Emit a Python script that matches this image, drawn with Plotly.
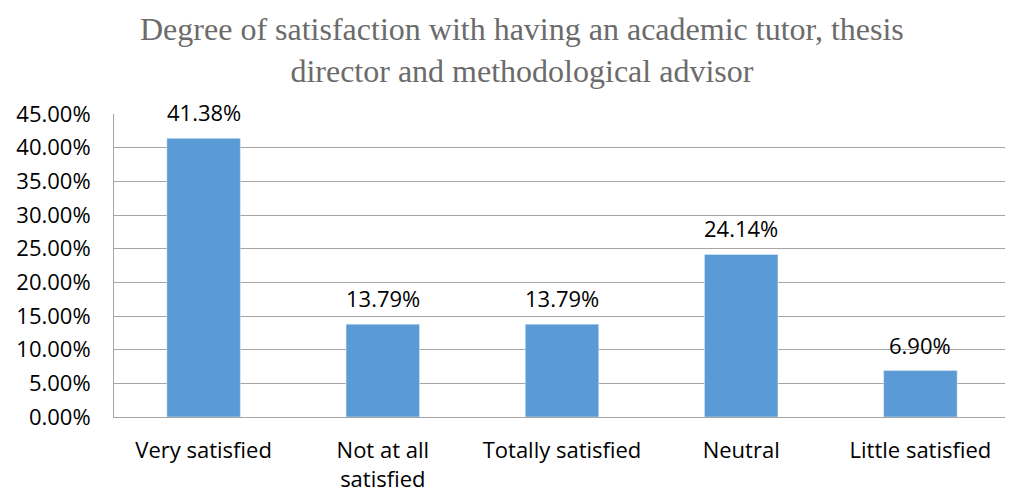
import plotly.graph_objects as go

categories = ["Very satisfied", "Not at all<br>satisfied", "Totally satisfied", "Neutral", "Little satisfied"]
values = [0.4138, 0.1379, 0.1379, 0.2414, 0.0690]
labels = ["41.38%", "13.79%", "13.79%", "24.14%", "6.90%"]
title_text = "Degree of satisfaction with having an academic tutor, thesis<br>director and methodological advisor"

# the page body keeps an 8px margin, so the figure is laid out 8px smaller
fig = go.Figure(go.Bar(
    x=categories,
    y=values,
    marker=dict(color="#5B9BD5"),
    width=0.41,
))

# value labels sit a bit higher above the bars than plotly's outside text
for cat, val, lab in zip(categories, values, labels):
    fig.add_annotation(
        x=cat, y=val, text=lab, showarrow=False,
        yanchor="middle", yshift=26,
        font=dict(family="Open Sans", size=22, color="#000000"),
    )

fig.add_annotation(
    text=title_text, xref="paper", yref="paper",
    x=0.455, xanchor="center", y=1.345, yanchor="top",
    showarrow=False, align="center",
    font=dict(family="Liberation Serif", size=32, color="#6b6b6b"),
)

fig.update_layout(
    width=1005, height=485,
    margin=dict(l=106, r=3, t=106, b=76),
    paper_bgcolor="white", plot_bgcolor="white",
    showlegend=False,
    yaxis=dict(
        range=[0, 0.45], dtick=0.05, tickformat=".2%",
        showgrid=True, gridcolor="#a6a6a6", gridwidth=1,
        showline=True, linecolor="#a6a6a6", zeroline=False,
        ticks="", ticklen=0, ticklabelstandoff=18, automargin=False,
        tickfont=dict(family="Open Sans", size=22, color="#000000"),
    ),
    xaxis=dict(
        showline=True, linecolor="#a6a6a6", ticks="",
        ticklabelstandoff=14, automargin=False,
        tickfont=dict(family="Open Sans", size=22, color="#000000"),
    ),
)

fig.write_html("out.html")
